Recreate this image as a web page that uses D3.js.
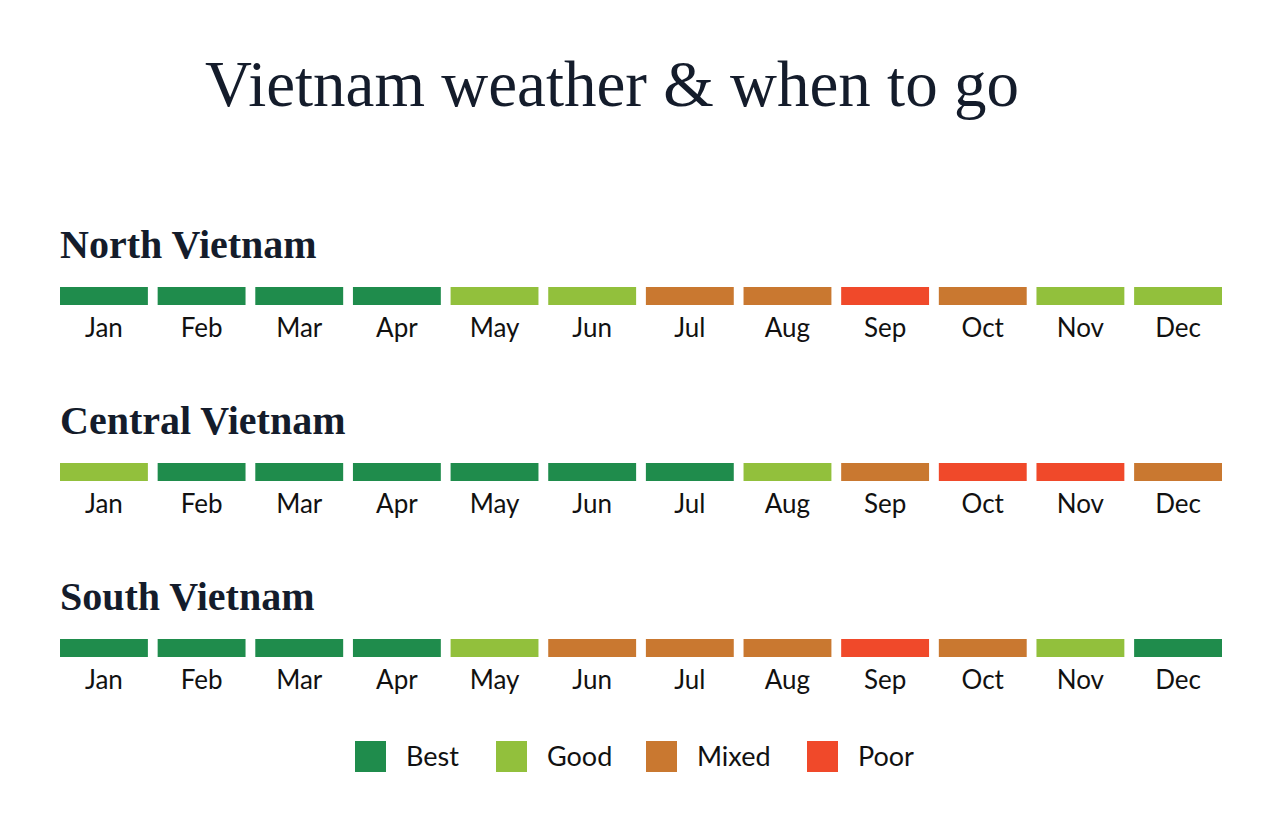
<!DOCTYPE html>
<html><head><meta charset="utf-8">
<script src="https://cdn.jsdelivr.net/npm/d3@7"></script>
<style>body{margin:0;background:#fff}</style>
</head><body>
<svg id="chart" width="1280" height="832"></svg>
<script>
const months = ["Jan","Feb","Mar","Apr","May","Jun","Jul","Aug","Sep","Oct","Nov","Dec"]
const regions = ["North Vietnam","Central Vietnam","South Vietnam"]
const north = ["Best","Best","Best","Best","Good","Good","Mixed","Mixed","Poor","Mixed","Good","Good"]
const central = ["Good","Best","Best","Best","Best","Best","Best","Good","Mixed","Poor","Poor","Mixed"]
const south = ["Best","Best","Best","Best","Good","Mixed","Mixed","Mixed","Poor","Mixed","Good","Best"]
const ratings = ["Best","Good","Mixed","Poor"]
const colors = ["#1f8c4c","#92c03c","#c97830","#f0492a"]

const svg = d3.select("#chart")
const color = d3.scaleOrdinal(ratings, colors)
const x = d3.scaleBand(months, [60, 1222]).paddingInner(0.1).paddingOuter(0)
const y = d3.scaleBand(regions, [287, 815])

svg.append("text").attr("x", 612).attr("y", 106).attr("text-anchor", "middle")
  .attr("font-family", "Liberation Serif, serif").attr("font-size", 65).attr("fill", "#141c2b")
  .text("Vietnam weather & when to go")

const rows = [north, central, south]
regions.forEach((r, i) => {
  const g = svg.append("g").attr("transform", `translate(0,${y(r)})`)
  g.append("text").attr("x", 60).attr("y", -29)
    .attr("font-family", "Liberation Serif, serif").attr("font-weight", "bold")
    .attr("font-size", 40).attr("fill", "#141c2b").text(r)
  g.selectAll("rect").data(rows[i]).join("rect")
    .attr("x", (d, j) => x(months[j])).attr("y", 0)
    .attr("width", x.bandwidth()).attr("height", 18)
    .attr("fill", d => color(d))
  g.selectAll("text.m").data(months).join("text").attr("class", "m")
    .attr("x", d => x(d) + x.bandwidth() / 2).attr("y", 50).attr("text-anchor", "middle")
    .attr("font-family", "Lato, sans-serif").attr("font-size", 26).attr("fill", "#111")
    .text(d => d)
})

const lx = d3.scaleOrdinal(ratings, [355, 496, 646, 807])
const lg = svg.append("g").selectAll("g").data(ratings).join("g")
  .attr("transform", d => `translate(${lx(d)},741)`)
lg.append("rect").attr("width", 31).attr("height", 31).attr("fill", d => color(d))
lg.append("text").attr("x", 51).attr("y", 25)
  .attr("font-family", "Lato, sans-serif").attr("font-size", 27).attr("fill", "#111")
  .text(d => d)
</script>
</body></html>
